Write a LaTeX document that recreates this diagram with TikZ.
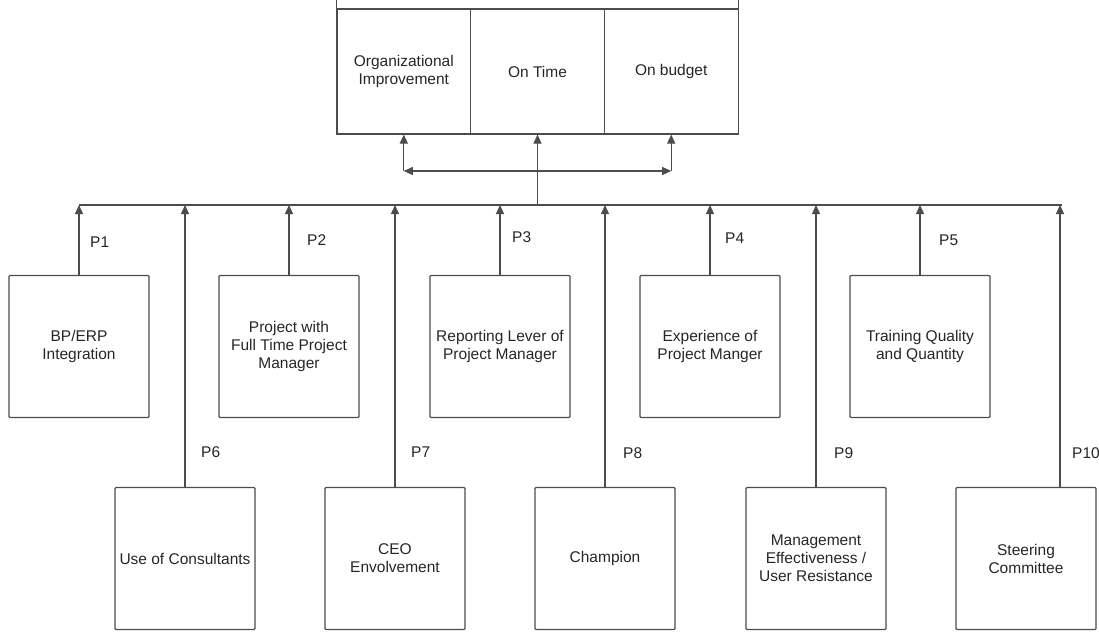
\documentclass[tikz,border=0pt]{standalone}
\usepackage{fontspec}
\setmainfont{Liberation Sans}
\usetikzlibrary{arrows.meta}
\tikzset{
	boxnode/.style = {
		align=center,
		inner sep=2pt,
		text=black!85,
		font=\fontsize{15.5}{18}\selectfont
	},
	node_factor/.style = {
		boxnode,
		rectangle,
		rounded corners=1pt,
		draw=black!70,
		line width=1.1pt,
		minimum width=140pt,
		minimum height=142pt
	},
	node_goal/.style = {
		node_factor,
		rounded corners=0pt,
		minimum width=133.7pt,
		minimum height=125pt
	},
	node_p/.style = {
		boxnode,
		anchor=west,
		inner sep=0pt
	},
	wire/.style = {
		draw=black!70,
		line width=1.1pt
	},
}

\begin{document}
\begin{tikzpicture}[x=1pt,y=-1pt,>={Triangle[length=9pt,width=8pt]}]
\useasboundingbox (0,0) rectangle (1099,632);

% goals
\node [node_goal] (org) at (403.8,71.5) {Organizational\\Improvement};
\node [node_goal] (time) at (537.5,71.5) {On Time};
\node [node_goal] (budget) at (671.2,71.5) {On budget};
\draw [wire] (org.north west) -- ++(0,-10);
\draw [wire] (budget.north east) -- ++(0,-10);

% factors
\node [node_factor] (f1) at (79,346.5) {BP/ERP\\Integration};
\node [node_factor] (f2) at (289,346.5) {Project with\\Full Time Project\\Manager};
\node [node_factor] (f3) at (500,346.5) {Reporting Lever of\\Project Manager};
\node [node_factor] (f4) at (710,346.5) {Experience of\\Project Manger};
\node [node_factor] (f5) at (920,346.5) {Training Quality\\and Quantity};
\node [node_factor] (f6) at (185,558.5) {Use of Consultants};
\node [node_factor] (f7) at (395,558.5) {CEO\\Envolvement};
\node [node_factor] (f8) at (605,558.5) {Champion};
\node [node_factor] (f9) at (816,558.5) {Management\\Effectiveness /\\User Resistance};
\node [node_factor] (f10) at (1026,558.5) {Steering\\Committee};

% bus
\coordinate (bus_l) at (79,205);
\coordinate (bus_r) at (1062,205);
\draw [wire] (bus_l) -- (bus_r);
\draw [wire,->] (time.south |- bus_l) -- (time.south);

% link between goals
\coordinate (loop_l) at (org.south |- 0,171);
\coordinate (loop_r) at (budget.south |- 0,171);
\draw [wire,->] (loop_l) -- (org.south);
\draw [wire,->] (loop_r) -- (budget.south);
\draw [wire,<->] (loop_l) -- (loop_r);

% factors up to bus
\foreach \i in {1,...,9}
	\draw [wire,->] (f\i.north) -- (f\i.north |- bus_l);
\coordinate (f10_top) at ([xshift=34pt]f10.north);
\draw [wire,->] (f10_top) -- (f10_top |- bus_l);

% labels
\foreach \i/\dx/\y in {1/11/242, 2/18/240, 3/12/237, 4/15/238, 5/19/240,
		6/16/452, 7/16/452, 8/18/453, 9/18/453}
	\node [node_p, xshift=\dx pt] (p\i) at (f\i.north |- 0,\y) {P\i};
\node [node_p, xshift=12pt] (p10) at (f10_top |- 0,453) {P10};
\end{tikzpicture}
\end{document}
